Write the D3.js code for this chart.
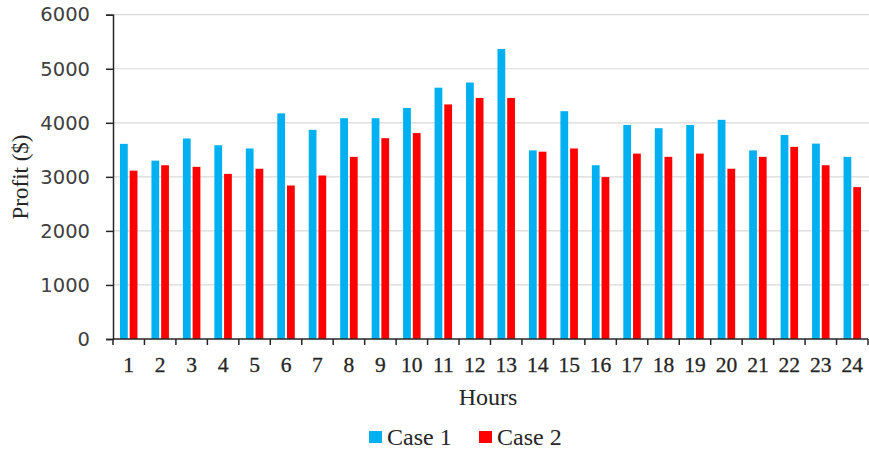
<!DOCTYPE html>
<html>
<head>
<meta charset="utf-8">
<script src="https://cdn.jsdelivr.net/npm/d3@7"></script>
<style>
  html, body { margin: 0; padding: 0; background: #fff; }
  svg { display: block; }
</style>
</head>
<body>
<svg id="chart" width="869" height="450"></svg>
<script>
const hours = ["1","2","3","4","5","6","7","8","9","10","11","12","13","14","15","16","17","18","19","20","21","22","23","24"];
const case1 = [3610, 3300, 3710, 3585, 3525, 4175, 3870, 4085, 4085, 4275, 4650, 4745, 5365, 3490, 4215, 3215, 3960, 3900, 3960, 4055, 3490, 3775, 3615, 3370];
const case2 = [3115, 3215, 3185, 3055, 3150, 2840, 3025, 3370, 3715, 3810, 4340, 4460, 4460, 3465, 3525, 2995, 3430, 3370, 3430, 3150, 3370, 3555, 3215, 2810];
const yTicks = [0, 1000, 2000, 3000, 4000, 5000, 6000];
const seriesNames = ["Case 1", "Case 2"];
const colors = ["#00B0F0", "#FF0000"];

const svg = d3.select("#chart");
const mLeft = 113, mRight = 868, mTop = 14.7, mBottom = 339;
const serif = "Liberation Serif, Times New Roman, serif";

const x = d3.scaleBand().domain(hours).range([mLeft, mRight]).paddingInner(0).paddingOuter(0);
const y = d3.scaleLinear().domain([0, 6000]).range([mBottom, mTop]);
const sub = d3.scaleBand().domain([0, 1]).range([0, x.bandwidth()]).paddingInner(0.2).paddingOuter(0.72);

// gridlines
svg.append("g").selectAll("line").data(yTicks.filter(d => d > 0)).join("line")
  .attr("x1", mLeft).attr("x2", 869)
  .attr("y1", d => y(d)).attr("y2", d => y(d))
  .attr("stroke", "#d9d9d9").attr("stroke-width", 1.2);

// bars
const series = [case1, case2];
series.forEach((vals, si) => {
  svg.append("g").selectAll("rect").data(vals).join("rect")
    .attr("x", (d, i) => x(hours[i]) + sub(si))
    .attr("width", sub.bandwidth())
    .attr("y", d => y(d))
    .attr("height", d => y(0) - y(d))
    .attr("fill", colors[si]);
});

// y axis
const yAxis = svg.append("g").attr("transform", `translate(${mLeft},0)`)
  .call(d3.axisLeft(y).tickValues(yTicks).tickSize(7).tickPadding(16).tickFormat(d3.format("d")));
yAxis.select(".domain").attr("stroke", "#262626").attr("stroke-width", 1.5);
yAxis.selectAll(".tick line").attr("stroke", "#262626").attr("stroke-width", 1.5);
yAxis.selectAll(".tick text").attr("font-family", "DejaVu Sans, Verdana, sans-serif")
  .attr("font-size", 19.5).attr("fill", "#404040");

// x axis with ticks between categories
const xAxisG = svg.append("g").attr("transform", `translate(0,${mBottom})`);
xAxisG.append("line").attr("x1", mLeft).attr("x2", mRight).attr("y1", 0).attr("y2", 0)
  .attr("stroke", "#262626").attr("stroke-width", 1.5);
const edges = hours.map(h => x(h)).concat([mRight]);
xAxisG.selectAll("line.tk").data(edges).join("line").attr("class", "tk")
  .attr("x1", d => d).attr("x2", d => d).attr("y1", 0).attr("y2", 6)
  .attr("stroke", "#262626").attr("stroke-width", 1.5);
xAxisG.selectAll("text").data(hours).join("text")
  .attr("x", d => x(d) + x.bandwidth() / 2)
  .attr("y", 33)
  .attr("text-anchor", "middle")
  .attr("font-family", serif)
  .attr("font-size", 21.5).attr("fill", "#262626")
  .attr("stroke", "#262626").attr("stroke-width", 0.3)
  .text(d => d);

// axis titles
svg.append("text").attr("x", 488).attr("y", 405).attr("text-anchor", "middle")
  .attr("font-family", serif)
  .attr("font-size", 24).attr("fill", "#262626").text("Hours");
svg.append("text").attr("transform", "translate(28,177) rotate(-90)").attr("text-anchor", "middle")
  .attr("font-family", serif)
  .attr("font-size", 23).attr("fill", "#262626").text("Profit ($)");

// legend
const legendX = [369, 479];
const lg = svg.append("g");
seriesNames.forEach((name, i) => {
  lg.append("rect").attr("x", legendX[i]).attr("y", 431).attr("width", 13).attr("height", 12).attr("fill", colors[i]);
  lg.append("text").attr("x", legendX[i] + 18).attr("y", 445)
    .attr("font-family", serif)
    .attr("font-size", 24).attr("fill", "#262626").text(name);
});
</script>
</body>
</html>
